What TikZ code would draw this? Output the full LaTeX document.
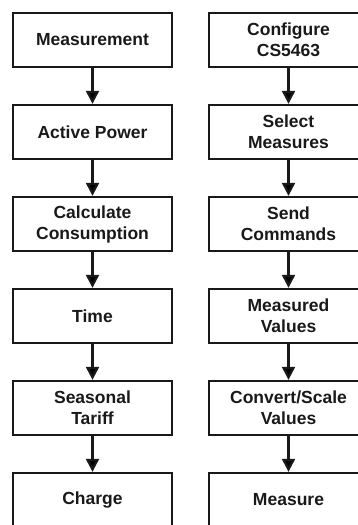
\documentclass[tikz,border=0pt]{standalone}
\usepackage{fontspec}
\setmainfont{Liberation Sans}
\usetikzlibrary{positioning,arrows.meta}

\begin{document}
\begin{tikzpicture}[x=1pt,y=-1pt,node distance=92pt,on grid,
    block/.style={draw=black!90,line width=2.3pt,minimum width=159pt,minimum height=54pt,
      align=center,font=\fontsize{17.5}{21}\selectfont\bfseries,text=black!90},
    flow/.style={line width=2.2pt,draw=black!90,-{Triangle[width=13pt,length=13pt]}}]
    \useasboundingbox (0,0) rectangle (358,525);
    \clip (0,0) rectangle (358,525);
    % left column
    \node[block] (meas)                        at (92.5,40) {Measurement};
    \node[block] (power)    [below=of meas]    {Active Power};
    \node[block] (consump)  [below=of power]   {Calculate\\Consumption};
    \node[block] (time)     [below=of consump] {Time};
    \node[block] (tariff)   [below=of time]    {Seasonal\\Tariff};
    \node[block] (charge)   [below=of tariff]  {Charge};
    % right column
    \node[block] (config)   [right=196pt of meas] {Configure\\CS5463};
    \node[block] (select)   [below=of config]  {Select\\Measures};
    \node[block] (send)     [below=of select]  {Send\\Commands};
    \node[block] (values)   [below=of send]    {Measured\\Values};
    \node[block] (convert)  [below=of values]  {Convert/Scale\\Values};
    \node[block] (measure)  [below=of convert] {Measure};
    \path[flow]
    % left edges
    (meas)    edge (power)
    (power)   edge (consump)
    (consump) edge (time)
    (time)    edge (tariff)
    (tariff)  edge (charge)
    % right edges
    (config)  edge (select)
    (select)  edge (send)
    (send)    edge (values)
    (values)  edge (convert)
    (convert) edge (measure);
\end{tikzpicture}
\end{document}
